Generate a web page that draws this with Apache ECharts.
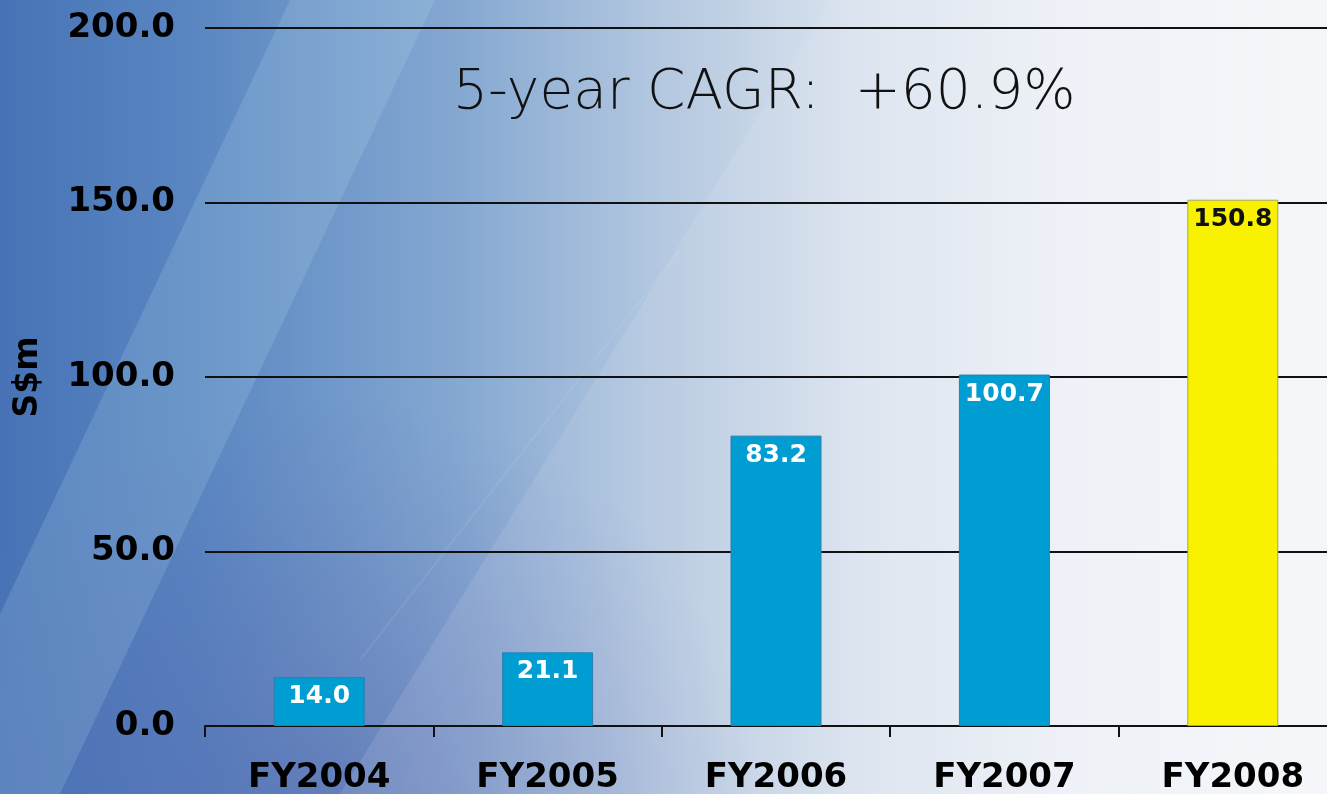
<!DOCTYPE html>
<html>
<head>
<meta charset="utf-8">
<script src="https://cdn.jsdelivr.net/npm/echarts@6/dist/echarts.min.js"></script>
<style>
html,body{margin:0;padding:0;width:1327px;height:794px;overflow:hidden;}
#main{width:1327px;height:794px;}
</style>
</head>
<body>
<div id="main"></div>
<script>
var categories = ['FY2004', 'FY2005', 'FY2006', 'FY2007', 'FY2008'];
var values = [14.0, 21.1, 83.2, 100.7, 150.8];
var yTicks = [0, 50, 100, 150, 200];
var titleText = '5-year CAGR:  +60.9%';
var yName = 'S$m';

var chart = echarts.init(document.getElementById('main'));
var W = 1327, H = 794;

var seriesData = values.map(function (v, i) {
  var last = i === values.length - 1;
  return {
    value: v,
    itemStyle: last ? { color: '#f8f200', borderColor: '#a9a65a', borderWidth: 1 }
                    : { color: '#009dd2', borderColor: '#2a7fae', borderWidth: 1 },
    label: { color: last ? '#111' : '#fff' }
  };
});

chart.setOption({
  animation: false,
  graphic: [
    { type: 'rect', z: -10, silent: true, shape: { x: 0, y: 0, width: W, height: H },
      style: { fill: new echarts.graphic.LinearGradient(0, 0, 1, 0, [
        { offset: 0, color: '#4773b6' },
        { offset: 0.15, color: '#5a87c2' },
        { offset: 0.35, color: '#86a9d2' },
        { offset: 0.5, color: '#b4c8e0' },
        { offset: 0.65, color: '#dbe4ef' },
        { offset: 0.8, color: '#eef2f7' },
        { offset: 1, color: '#f6f8fb' }
      ]) } },
    { type: 'rect', z: -9, silent: true, shape: { x: 0, y: 0, width: W, height: H },
      style: { fill: new echarts.graphic.RadialGradient(0.25, 1.05, 0.55, [
        { offset: 0, color: 'rgba(70,70,150,0.35)' },
        { offset: 0.6, color: 'rgba(80,80,160,0.15)' },
        { offset: 1, color: 'rgba(90,90,170,0)' }
      ]) } },
    { type: 'polygon', z: -8, silent: true,
      shape: { points: [[290, 0], [435, 0], [60, 794], [-85, 794]] },
      style: { fill: 'rgba(200,235,245,0.16)' } },
    { type: 'polygon', z: -8, silent: true,
      shape: { points: [[830, 0], [1327, 0], [1327, 794], [340, 794]] },
      style: { fill: 'rgba(235,242,250,0.12)' } },
    { type: 'polyline', z: -8, silent: true,
      shape: { points: [[680, 250], [360, 660]] },
      style: { stroke: 'rgba(220,235,245,0.1)', lineWidth: 2 } },
    { type: 'text', z: 10, left: 453, top: 66,
      style: { text: titleText, fontFamily: 'DejaVu Sans', fontWeight: 200, fontSize: 55, fill: '#111' } }
  ],
  grid: { left: 205, right: -20, top: 28, bottom: 68, containLabel: false, outerBoundsMode: 'none' },
  xAxis: {
    type: 'category',
    data: categories,
    boundaryGap: true,
    axisLine: { show: true, lineStyle: { color: '#111', width: 2 } },
    axisTick: { show: true, length: 11, lineStyle: { color: '#111', width: 2 } },
    axisLabel: { margin: 35, color: '#000', fontFamily: 'DejaVu Sans', fontWeight: 'bold', fontSize: 34 }
  },
  yAxis: {
    type: 'value',
    min: yTicks[0], max: yTicks[yTicks.length - 1], interval: 50,
    name: yName, nameLocation: 'middle', nameRotate: 90, nameGap: 160,
    nameTextStyle: { color: '#000', fontFamily: 'DejaVu Sans', fontWeight: 'bold', fontSize: 33 },
    axisLine: { show: false },
    axisTick: { show: false },
    axisLabel: { margin: 30, color: '#000', fontFamily: 'DejaVu Sans', fontWeight: 'bold', fontSize: 34,
      formatter: function (v) { return v.toFixed(1); } },
    splitLine: { show: true, lineStyle: { color: '#111', width: 2 } }
  },
  series: [{
    type: 'bar',
    data: seriesData,
    barWidth: 91,
    label: { show: true, position: 'insideTop', distance: 7, fontFamily: 'DejaVu Sans', fontWeight: 'bold', fontSize: 25,
      formatter: function (p) { return p.value.toFixed(1); } }
  }]
});
</script>
</body>
</html>
